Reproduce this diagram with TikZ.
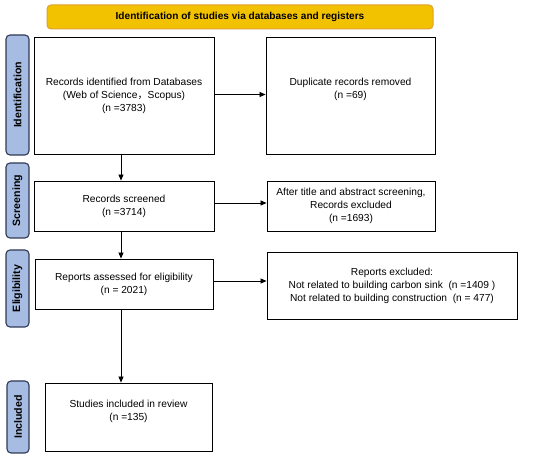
\documentclass[tikz,border=0pt]{standalone}
\usepackage{fontspec}
\setmainfont{Liberation Sans}
\newfontfamily\cjk{Noto Sans CJK SC}
\usetikzlibrary{arrows.meta}
\definecolor{titlefill}{HTML}{F2C200}
\definecolor{titleborder}{HTML}{E0A030}
\definecolor{sidefill}{HTML}{A7BCE2}
\definecolor{sideborder}{HTML}{2E3A55}
\begin{document}
\begin{tikzpicture}[x=1pt,y=1pt,
  font=\fontsize{10.2}{13}\selectfont,
  box/.style={draw=black, line width=0.9pt, fill=white, inner sep=2pt, align=center},
  sidelabel/.style={draw=sideborder, line width=1.1pt, fill=sidefill, rounded corners=4pt, rotate=90, minimum height=23pt, inner sep=0pt, font=\fontsize{10.6}{12}\selectfont\bfseries},
  txt/.style={align=center, inner sep=0pt},
  arr/.style={-{Triangle[length=6pt,width=5pt]}, line width=0.8pt}]
\useasboundingbox (0,0) rectangle (550,-457);
% title
\node[draw=titleborder, line width=1pt, fill=titlefill, rounded corners=4pt, minimum width=386pt, minimum height=24pt, font=\fontsize{10.1}{12}\selectfont\bfseries] (title) at (240,-17) {Identification of studies via databases and registers};
% side labels
\node[sidelabel, minimum width=120pt] (lid) at (17.5,-95) {Identification};
\node[sidelabel, minimum width=75pt] (lscr) at (17.5,-200.5) {Screening};
\node[sidelabel, minimum width=77pt] (lel) at (17.5,-288.5) {Eligibility};
\node[sidelabel, minimum width=72pt, minimum height=22pt] (linc) at (18,-417) {Included};
% boxes
\node[box, minimum width=180pt, minimum height=117pt] (b1) at (124,-95.5) {Records identified from Databases\\ (Web of Science{\cjk ，}Scopus)\\ (n =3783)};
\node[box, minimum width=169pt, minimum height=117pt] (b2) at (350.5,-95.5) {};
\node[txt] (t2) at ([yshift=6pt]b2.center) {Duplicate records removed\\ (n =69)};
\node[box, minimum width=180pt, minimum height=50pt] (b3) at (124,-206) {Records screened\\ (n =3714)};
\node[box, minimum width=168pt, minimum height=50pt] (b4) at (351,-206) {After title and abstract screening,\\ Records excluded\\ (n =1693)};
\node[box, minimum width=178pt, minimum height=50pt] (b5) at (124,-284) {Reports assessed for eligibility\\ (n = 2021)};
\node[box, minimum width=250pt, minimum height=67pt] (b6) at (392,-285.5) {Reports excluded:\\ Not related to building carbon sink\ \ (n =1409 )\\ Not related to building construction\ \ (n = 477)};
\node[box, minimum width=167pt, minimum height=68pt] (b7) at (128.5,-417) {};
\node[txt] (t7) at ([yshift=6pt]b7.center) {Studies included in review\\ (n =135)};
% arrows
\coordinate (ax) at (121,0);
\draw[arr] (b1.south -| ax) -- (b3.north -| ax);
\draw[arr] (b3.south -| ax) -- (b5.north -| ax);
\draw[arr] (b5.south -| ax) -- (b7.north -| ax);
\draw[arr] ([yshift=1pt]b1.east) -- ([yshift=1pt]b1.east -| b2.west);
\draw[arr] ([yshift=3pt]b3.east) -- ([yshift=3pt]b3.east -| b4.west);
\draw[arr] ([yshift=3pt]b5.east) -- ([yshift=3pt]b5.east -| b6.west);
\end{tikzpicture}
\end{document}
